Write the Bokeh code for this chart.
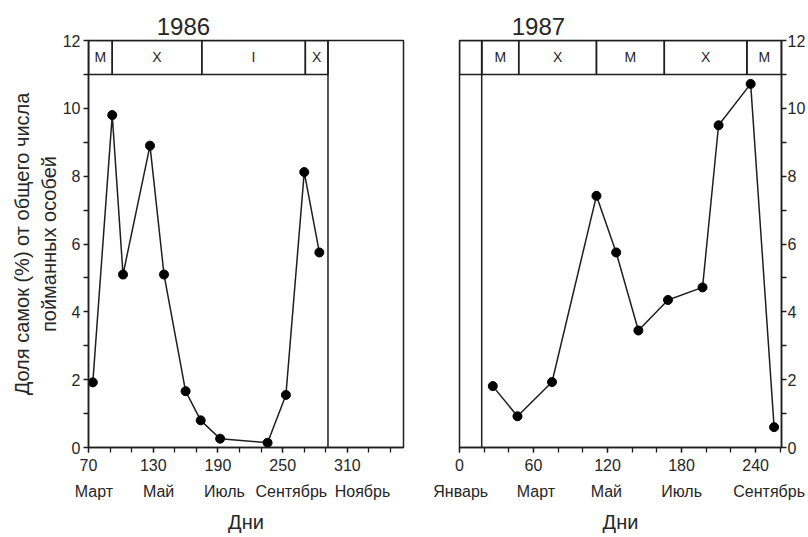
from bokeh.plotting import figure
from bokeh.layouts import row
from bokeh.models import Range1d, FixedTicker, LinearAxis
from bokeh.core.properties import value
from bokeh.embed import file_html
from bokeh.resources import INLINE

# ---------------- data ----------------
days_1986 = [74, 92, 102, 127, 140, 160, 174, 192, 236, 253, 270, 284]
share_1986 = [1.92, 9.8, 5.1, 8.9, 5.1, 1.66, 0.8, 0.26, 0.14, 1.55, 8.12, 5.75]

days_1987 = [27, 47, 75, 111, 127, 145, 169, 197, 210, 236, 255]
share_1987 = [1.81, 0.92, 1.93, 7.42, 5.75, 3.45, 4.35, 4.72, 9.5, 10.72, 0.6]

strip_1986_start = [70, 92, 175, 271]
strip_1986_end = [92, 175, 271, 292]
strip_1986_labels = ["М", "Х", "I", "Х"]
season_end_1986 = 292

strip_1987_start = [0, 18, 48, 111, 166, 233]
strip_1987_end = [18, 48, 111, 166, 233, 261]
strip_1987_labels = ["", "М", "Х", "М", "Х", "М"]
season_start_1987 = 18

ticks_1986 = [70, 130, 190, 250, 310]
month_days_1986 = [75, 135, 196, 258, 324]
months_1986 = ["Март", "Май", "Июль", "Сентябрь", "Ноябрь"]
ticks_1987 = [0, 60, 120, 180, 240]
month_days_1987 = [1, 62, 119, 180, 251]
months_1987 = ["Январь", "Март", "Май", "Июль", "Сентябрь"]

title_day_1986 = 158
title_day_1987 = 64

y_major = [0, 2, 4, 6, 8, 10, 12]
y_minor = [1, 3, 5, 7, 9, 11]

FONT = "Liberation Sans"
INK = "#1e1e1e"
TXT = "#262626"
H = 535


def style_axis(ax, major, minor):
    ax.ticker = FixedTicker(ticks=major, minor_ticks=minor)
    ax.major_label_text_font = FONT
    ax.major_label_text_font_size = "16px"
    ax.major_label_text_color = TXT
    ax.axis_line_color = INK
    ax.axis_line_width = 1.5
    ax.major_tick_line_color = INK
    ax.minor_tick_line_color = INK
    ax.major_tick_line_width = 1.3
    ax.minor_tick_line_width = 1.3
    ax.major_tick_in = 0
    ax.major_tick_out = 5
    ax.minor_tick_in = 0
    ax.minor_tick_out = 5
    ax.major_label_standoff = 3


def month_axis(p, ticks, months):
    ax = LinearAxis()
    ax.ticker = FixedTicker(ticks=ticks, minor_ticks=[])
    ax.major_label_overrides = {t: m for t, m in zip(ticks, months)}
    ax.major_label_text_font = FONT
    ax.major_label_text_font_size = "16px"
    ax.major_label_text_color = TXT
    ax.axis_line_color = None
    ax.major_tick_line_color = None
    ax.minor_tick_line_color = None
    ax.major_tick_out = 0
    ax.major_tick_in = 0
    ax.major_label_standoff = 9
    ax.axis_label = "Дни"
    ax.axis_label_text_font = FONT
    ax.axis_label_text_font_size = "20px"
    ax.axis_label_text_font_style = "normal"
    ax.axis_label_text_color = TXT
    ax.axis_label_standoff = 8
    p.add_layout(ax, "below")


def year_title(p, text, day):
    ax = LinearAxis()
    ax.ticker = FixedTicker(ticks=[day], minor_ticks=[])
    ax.major_label_overrides = {day: text}
    ax.major_label_text_font = FONT
    ax.major_label_text_font_size = "24px"
    ax.major_label_text_color = TXT
    ax.axis_line_color = None
    ax.major_tick_line_color = None
    ax.minor_tick_line_color = None
    ax.major_tick_out = 0
    ax.major_tick_in = 0
    ax.major_label_standoff = 6
    p.add_layout(ax, "above")


def base_figure(width, x0, x1, ylocation, border_left, border_right):
    p = figure(width=width, height=H, output_backend="svg", toolbar_location=None,
               x_range=Range1d(x0, x1), y_range=Range1d(0, 12),
               y_axis_location=ylocation,
               min_border_left=border_left, min_border_right=border_right,
               min_border_top=40, min_border_bottom=20)
    p.grid.visible = False
    p.outline_line_color = INK
    p.outline_line_width = 1.5
    p.background_fill_color = "white"
    p.border_fill_color = "white"
    return p


# ---------------- 1986 ----------------
p1 = base_figure(430, 70, 362, "left", 88, 27)
x1_axis = p1.below[0]
y1_axis = p1.left[0]
style_axis(x1_axis, ticks_1986, list(range(70, 362, 20)))
style_axis(y1_axis, y_major, y_minor)
x1_axis.major_label_standoff = 6
y1_axis.axis_label = "Доля самок (%) от общего числа\nпойманных особей"
y1_axis.axis_label_text_font = FONT
y1_axis.axis_label_text_font_size = "20px"
y1_axis.axis_label_text_font_style = "normal"
y1_axis.axis_label_text_color = TXT
y1_axis.axis_label_standoff = 0
month_axis(p1, month_days_1986, months_1986)
year_title(p1, "1986", title_day_1986)

p1.quad(left=strip_1986_start, right=strip_1986_end, bottom=11, top=12,
        fill_color=None, line_color=INK, line_width=1.5)
p1.text(x=[(a + b) / 2 for a, b in zip(strip_1986_start, strip_1986_end)],
        y=[11.5] * len(strip_1986_labels), text=strip_1986_labels,
        text_align="center", text_baseline="middle", text_font=value(FONT),
        text_font_size="14px", text_color=TXT)
p1.segment(x0=[season_end_1986], y0=[0], x1=[season_end_1986], y1=[12],
           line_color=INK, line_width=1.5)
p1.line(days_1986, share_1986, line_color=INK, line_width=1.5)
p1.scatter(days_1986, share_1986, size=9, fill_color="black", line_color="black")

# ---------------- 1987 ----------------
p2 = base_figure(378, 0, 261, "right", 29, 23)
x2_axis = p2.below[0]
y2_axis = p2.right[0]
style_axis(x2_axis, ticks_1987, list(range(0, 261, 20)))
style_axis(y2_axis, y_major, y_minor)
x2_axis.major_label_standoff = 6
y2_axis.major_label_standoff = 1
month_axis(p2, month_days_1987, months_1987)
year_title(p2, "1987", title_day_1987)

p2.quad(left=strip_1987_start, right=strip_1987_end, bottom=11, top=12,
        fill_color=None, line_color=INK, line_width=1.5)
p2.text(x=[(a + b) / 2 for a, b in zip(strip_1987_start, strip_1987_end)],
        y=[11.5] * len(strip_1987_labels), text=strip_1987_labels,
        text_align="center", text_baseline="middle", text_font=value(FONT),
        text_font_size="14px", text_color=TXT)
p2.segment(x0=[season_start_1987], y0=[0], x1=[season_start_1987], y1=[12],
           line_color=INK, line_width=1.5)
p2.line(days_1987, share_1987, line_color=INK, line_width=1.5)
p2.scatter(days_1987, share_1987, size=9, fill_color="black", line_color="black")

layout = row(p1, p2, spacing=0)
open("out.html", "w").write(file_html(layout, INLINE))
